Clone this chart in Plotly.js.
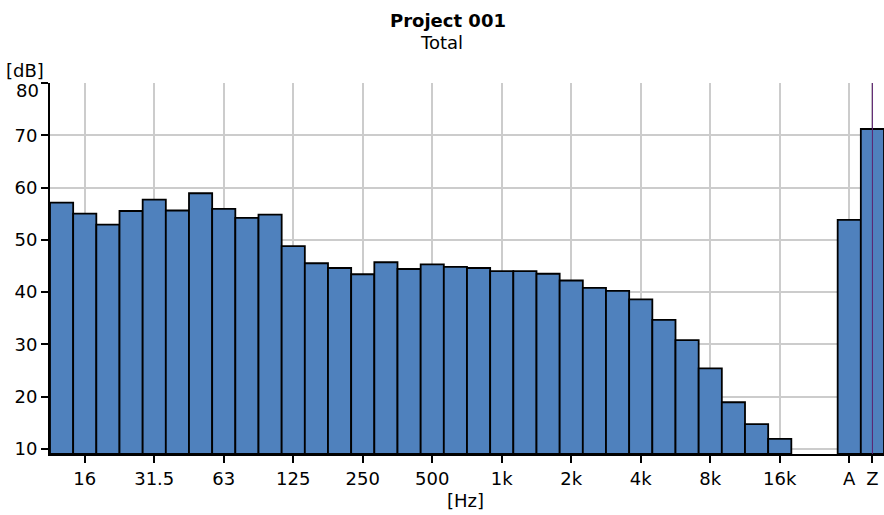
<!DOCTYPE html>
<html>
<head>
<meta charset="utf-8">
<script src="https://cdn.plot.ly/plotly-3.0.1.min.js"></script>
<style>html,body{margin:0;padding:0;background:#fff;}#chart{width:884px;height:515px;}</style>
</head>
<body>
<div id="chart"></div>
<script>
// Frequency bands (1/3 octave) plus gap, A and Z totals
const categories = ["12.5","16","20","25","31.5","40","50","63","80","100","125","160","200","250","315","400","500","630","800","1k","1.25k","1.6k","2k","2.5k","3.15k","4k","5k","6.3k","8k","10k","12.5k","16k","20k","gap","A","Z"];
const levels = [57.1,55.0,52.9,55.5,57.7,55.6,58.9,55.9,54.2,54.8,48.8,45.5,44.6,43.4,45.7,44.4,45.3,44.8,44.6,44.0,44.0,43.5,42.2,40.8,40.2,38.6,34.65,30.8,25.4,18.9,14.7,11.9,null,null,53.8,71.2];
const tickCats = ["16","31.5","63","125","250","500","1k","2k","4k","8k","16k","A","Z"];
const tickLabels = ["16","31.5","63","125","250","500","1k","2k","4k","8k","16k","A","Z"];
const yTicks = [10,20,30,40,50,60,70,80];
const yTickLabels = ["10","20","30","40","50","60","70",""];

const FONT = "DejaVu Sans, Verdana, sans-serif";
const BASE = 9;

const trace = {
  type: "bar",
  x: categories,
  y: levels.map(v => v === null ? null : v - BASE),
  base: BASE,
  marker: {color: "#4f81bd", line: {color: "#000000", width: 1.8}},
  hoverinfo: "x+y"
};

const layout = {
  width: 884, height: 515,
  margin: {l: 50, r: 0, t: 82.7, b: 60.7, pad: 0},
  paper_bgcolor: "#ffffff", plot_bgcolor: "#ffffff",
  showlegend: false,
  bargap: 0,
  font: {family: FONT, size: 18, color: "#000"},
  xaxis: {
    type: "category",
    categoryorder: "array", categoryarray: categories,
    range: [-0.5, 35.5],
    tickmode: "array", tickvals: tickCats, ticktext: tickLabels,
    ticks: "outside", ticklen: 7, tickwidth: 2, tickcolor: "#000",
    showgrid: true, gridcolor: "#cccccc", gridwidth: 2,
    showline: true, linecolor: "#000", linewidth: 2,
    zeroline: false,
    tickfont: {family: FONT, size: 18, color: "#000"}
  },
  yaxis: {
    range: [BASE, 80],
    tickmode: "array", tickvals: yTicks, ticktext: yTickLabels,
    ticks: "outside", ticklen: 7, tickwidth: 2, tickcolor: "#000",
    showgrid: true, gridcolor: "#cccccc", gridwidth: 2,
    showline: true, linecolor: "#000", linewidth: 2,
    zeroline: false,
    tickfont: {family: FONT, size: 18, color: "#000"}
  },
  shapes: [
    {type: "line", layer: "above", xref: "x", yref: "y", x0: "Z", x1: "Z", y0: BASE, y1: 80,
     line: {color: "#5b1f6e", width: 1}}
  ],
  annotations: [
    {text: "<b>Project 001</b>", xref: "paper", yref: "paper", x: 0.4769, y: 1.1687,
     xanchor: "center", yanchor: "middle", showarrow: false, font: {family: FONT, size: 18, color: "#000"}},
    {text: "Total", xref: "paper", yref: "paper", x: 0.4700, y: 1.1082,
     xanchor: "center", yanchor: "middle", showarrow: false, font: {family: FONT, size: 18, color: "#000"}},
    {text: "[dB]", xref: "paper", yref: "paper", x: -0.0300, y: 1.0337,
     xanchor: "center", yanchor: "middle", showarrow: false, font: {family: FONT, size: 18, color: "#000"}},
    {text: "80", xref: "paper", yref: "paper", x: -0.0108, y: 0.9787,
     xanchor: "right", yanchor: "middle", showarrow: false, font: {family: FONT, size: 18, color: "#000"}},
    {text: "[Hz]", xref: "paper", yref: "paper", x: 0.4988, y: -0.125,
     xanchor: "center", yanchor: "middle", showarrow: false, font: {family: FONT, size: 18, color: "#000"}}
  ]
};

Plotly.newPlot("chart", [trace], layout, {displayModeBar: false, staticPlot: true});
</script>
</body>
</html>
